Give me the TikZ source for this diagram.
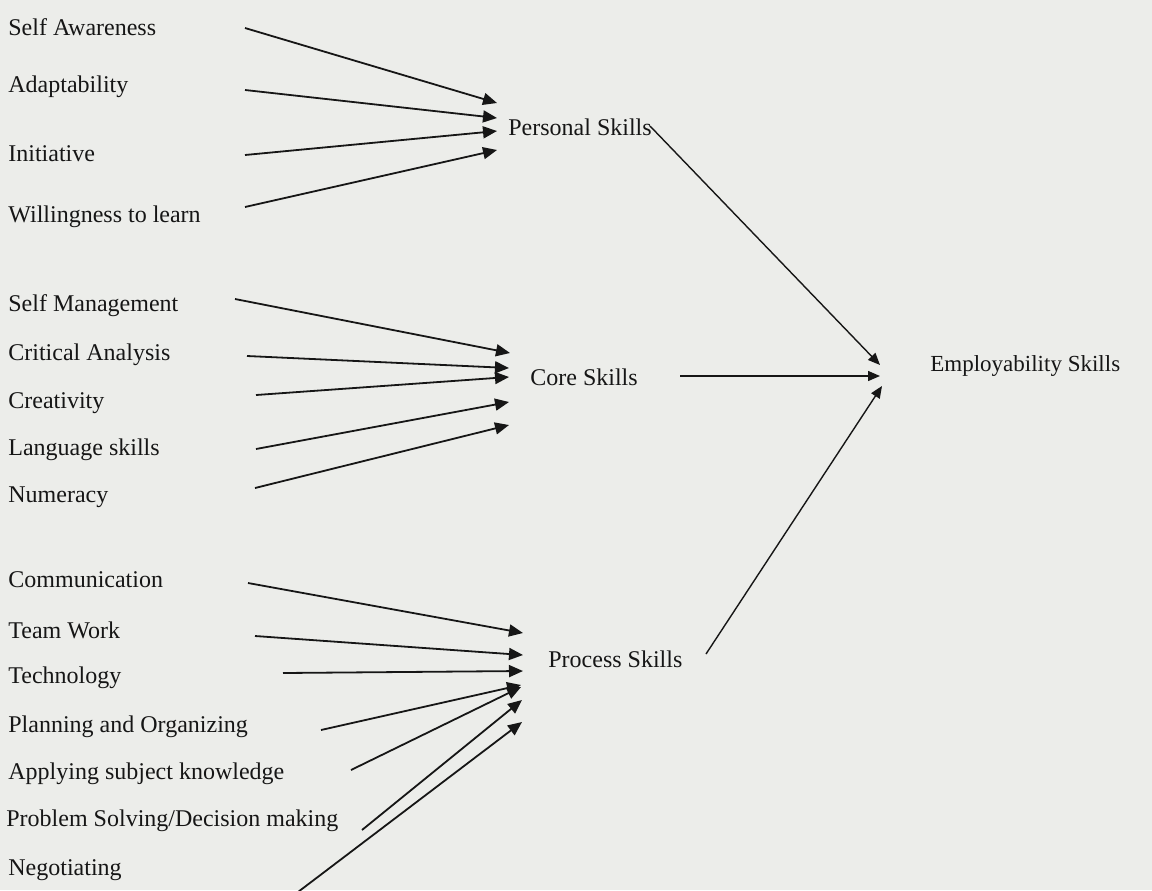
\documentclass[tikz,border=0pt]{standalone}
\usepackage{fontspec}
\setmainfont{Liberation Serif}
\usetikzlibrary{arrows.meta}
\definecolor{paper}{RGB}{236,237,234}
\definecolor{ink}{RGB}{22,22,22}

\begin{document}
\begin{tikzpicture}[x=0.5pt, y=-0.5pt,
	skill/.style={anchor=west, inner sep=0pt, text=ink, font=\fontsize{12}{14}\selectfont},
	feed/.style={-{Triangle[length=7pt,width=6pt]}, line width=0.9pt, color=ink},
	link/.style={-{Triangle[length=6pt,width=5pt]}, line width=0.7pt, color=ink}]
	
	\fill[paper] (0,0) rectangle (1152,890);
	\useasboundingbox (0,0) rectangle (1152,890);
	
	% personal skills
	\node[skill] (sa) at (8, 27)    {Self Awareness};
	\node[skill] (ad) at (8, 87)    {Adaptability};
	\node[skill] (in) at (8, 154)   {Initiative};
	\node[skill] (wl) at (8, 217)   {Willingness to learn};
	
	% core skills
	\node[skill] (sm) at (8, 306)   {Self Management};
	\node[skill] (ca) at (8, 355)   {Critical Analysis};
	\node[skill] (cr) at (8, 403)   {Creativity};
	\node[skill] (ls) at (8, 450)   {Language skills};
	\node[skill] (nu) at (8, 497)   {Numeracy};
	
	% process skills
	\node[skill] (co) at (8, 580)   {Communication};
	\node[skill] (tw) at (8, 630)   {Team Work};
	\node[skill] (te) at (8, 678)   {Technology};
	\node[skill] (po) at (8, 727)   {Planning and Organizing};
	\node[skill] (as) at (8, 774)   {Applying subject knowledge};
	\node[skill] (ps) at (6, 821)   {Problem Solving/Decision making};
	\node[skill] (ne) at (8, 870)   {Negotiating};
	
	\node[skill] (personal) at (508, 127)  {Personal Skills};
	\node[skill] (core)     at (530, 377)  {Core Skills};
	\node[skill] (process)  at (548, 659)  {Process Skills};
	\node[skill, font=\fontsize{11.5}{14}\selectfont] (employ) at (930, 366) {Employability Skills};
	
	% tails and tips
	\coordinate (sa-t) at (245, 28);   \coordinate (sa-h) at (497, 103);
	\coordinate (ad-t) at (245, 90);   \coordinate (ad-h) at (497, 118);
	\coordinate (in-t) at (245, 155);  \coordinate (in-h) at (497, 131);
	\coordinate (wl-t) at (245, 207);  \coordinate (wl-h) at (497, 150);
	
	\coordinate (sm-t) at (235, 299);  \coordinate (sm-h) at (510, 353);
	\coordinate (ca-t) at (247, 356);  \coordinate (ca-h) at (509, 368);
	\coordinate (cr-t) at (256, 395);  \coordinate (cr-h) at (509, 377);
	\coordinate (ls-t) at (256, 449);  \coordinate (ls-h) at (509, 402);
	\coordinate (nu-t) at (255, 488);  \coordinate (nu-h) at (509, 425);
	
	\coordinate (co-t) at (248, 583);  \coordinate (co-h) at (523, 633);
	\coordinate (tw-t) at (255, 636);  \coordinate (tw-h) at (523, 655);
	\coordinate (te-t) at (283, 673);  \coordinate (te-h) at (523, 671);
	\coordinate (po-t) at (321, 730);  \coordinate (po-h) at (521, 685);
	\coordinate (as-t) at (351, 770);  \coordinate (as-h) at (521, 687);
	\coordinate (ps-t) at (362, 830);  \coordinate (ps-h) at (522, 700);
	\coordinate (ne-t) at (298, 892);  \coordinate (ne-h) at (522, 722);
	
	\coordinate (personal-t) at (650, 126);  \coordinate (personal-h) at (880, 365);
	\coordinate (core-t)     at (680, 376);  \coordinate (core-h)     at (880, 376);
	\coordinate (process-t)  at (706, 654);  \coordinate (process-h)  at (882, 386);
	
	\path[feed] (sa-t) edge (sa-h);
	\path[feed] (ad-t) edge (ad-h);
	\path[feed] (in-t) edge (in-h);
	\path[feed] (wl-t) edge (wl-h);
	
	\path[feed] (sm-t) edge (sm-h);
	\path[feed] (ca-t) edge (ca-h);
	\path[feed] (cr-t) edge (cr-h);
	\path[feed] (ls-t) edge (ls-h);
	\path[feed] (nu-t) edge (nu-h);
	
	\path[feed] (co-t) edge (co-h);
	\path[feed] (tw-t) edge (tw-h);
	\path[feed] (te-t) edge (te-h);
	\path[feed] (po-t) edge (po-h);
	\path[feed] (as-t) edge (as-h);
	\path[feed] (ps-t) edge (ps-h);
	\path[feed] (ne-t) edge (ne-h);
	
	\path[link] (personal-t) edge (personal-h);
	\path[link] (core-t)     edge (core-h);
	\path[link] (process-t)  edge (process-h);
	
\end{tikzpicture}
\end{document}
